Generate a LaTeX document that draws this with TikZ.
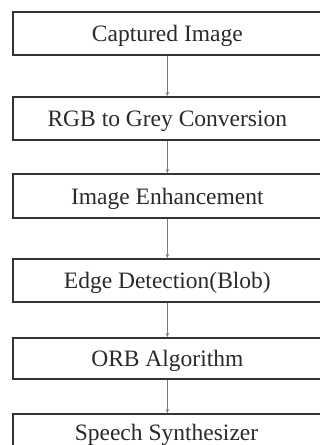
\documentclass[tikz,border=0pt]{standalone}
\usepackage{fontspec}
\setmainfont{Liberation Serif}
\usetikzlibrary{arrows.meta}
\definecolor{boxline}{HTML}{333333}
\definecolor{txt}{HTML}{2A2A2A}
\definecolor{arr}{HTML}{7A7A7A}
\begin{document}
\begin{tikzpicture}[x=1pt,y=-1pt,
  stepbox/.style={draw=boxline,line width=1.7pt,minimum width=309pt,inner sep=0pt,
    text height=17pt,text depth=0pt,
    font=\fontsize{23.5}{26}\selectfont,text=txt,anchor=north west},
  flow/.style={draw=arr,line width=0.8pt,-{Stealth[length=4pt,width=3.5pt]}}]
\useasboundingbox (0,0) rectangle (320,445);
\begin{scope}
\clip (0,0) rectangle (320,445);
\node[stepbox,minimum height=43pt] (b1) at (12,11) {Captured Image};
\node[stepbox,minimum height=43pt] (b2) at (12,96) {RGB to Grey Conversion};
\node[stepbox,minimum height=44pt] (b3) at (12,173) {Image Enhancement};
\node[stepbox,minimum height=43pt] (b4) at (12,258) {Edge Detection(Blob)};
\node[stepbox,minimum height=41pt] (b5) at (12,337) {ORB Algorithm};
\node[stepbox,minimum height=50pt] (b6) at (12,413) {};
\node[font=\fontsize{23.5}{26}\selectfont,text=txt,inner sep=0pt,anchor=base] (t6) at (166.5,440) {Speech Synthesizer};
\end{scope}
\draw[flow] (b1.south) -- (b2.north);
\draw[flow] (b2.south) -- (b3.north);
\draw[flow] (b3.south) -- (b4.north);
\draw[flow] (b4.south) -- (b5.north);
\draw[flow] (b5.south) -- (b6.north);
\end{tikzpicture}
\end{document}
